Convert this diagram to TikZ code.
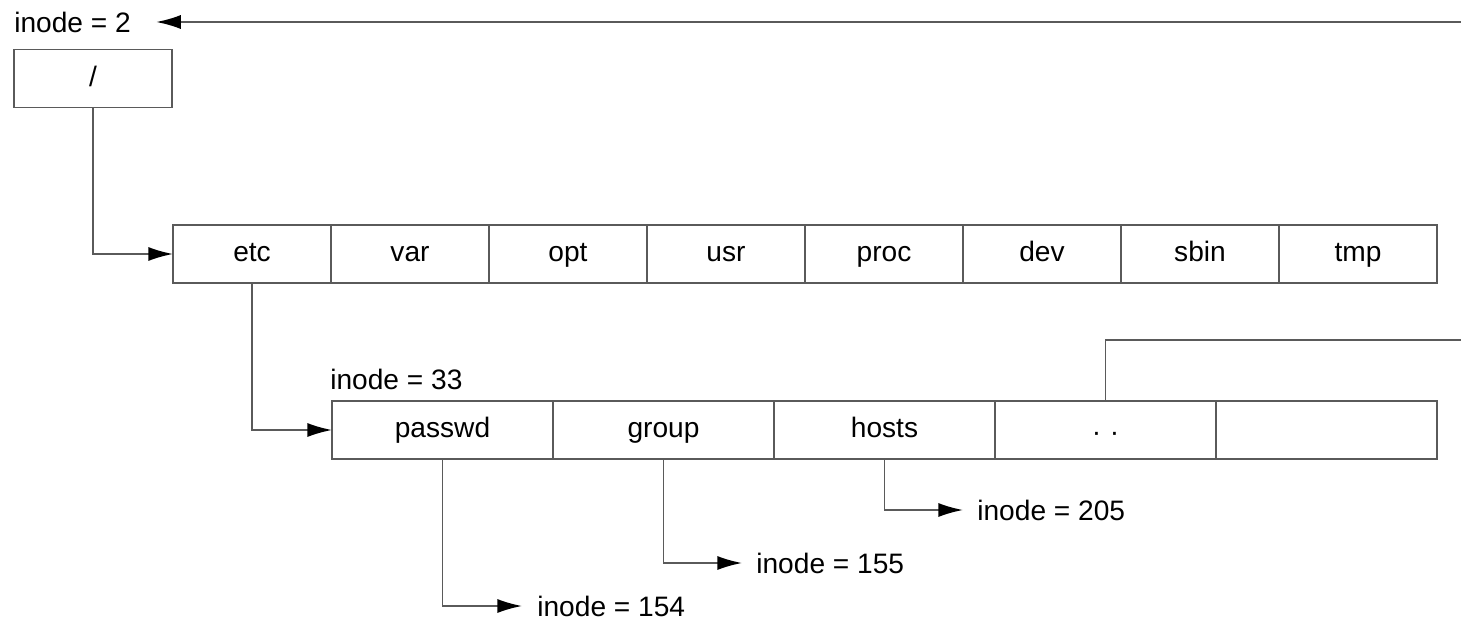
\documentclass[tikz,border=0pt]{standalone}
\usepackage{fontspec}
\setmainfont{Liberation Sans}
\usetikzlibrary{arrows.meta,positioning}
\definecolor{linegray}{RGB}{90,90,90}
\tikzstyle{dirbox} = [draw=linegray, line width=1pt, rectangle, outer sep=0pt,
    minimum height=1.16cm, minimum width=3.16cm, text height=1em, text depth=0.1em]
\tikzstyle{entry} = [dirbox, minimum width=4.42cm]
\tikzstyle{inodelbl} = [inner sep=0pt, anchor=west]
\tikzstyle{link} = [draw=linegray, line width=1pt]

\begin{document}
\begin{tikzpicture}[node distance=0pt, >={Latex[length=14pt,width=8pt,color=black]},
    every node/.append style={font=\fontsize{16}{19}\selectfont}]
    \useasboundingbox (0,0) rectangle (29.22,-12.42);
    % root directory
    \node [inodelbl] (ino2) at (0.28,-0.44) {inode = 2};
    \node [dirbox] (root) at (1.86,-1.57) {/};
    \coordinate (topin) at (29.22,-0.44);
    % entries of /
    \node [dirbox] (etc) at (5.04,-5.08) {etc};
    \node [dirbox, right=of etc] (var) {var};
    \node [dirbox, right=of var] (opt) {opt};
    \node [dirbox, right=of opt] (usr) {usr};
    \node [dirbox, right=of usr] (proc) {proc};
    \node [dirbox, right=of proc] (dev) {dev};
    \node [dirbox, right=of dev] (sbin) {sbin};
    \node [dirbox, right=of sbin] (tmp) {tmp};
    % entries of /etc
    \node [inodelbl] (ino33) at (6.6,-7.58) {inode = 33};
    \node [entry] (passwd) at (8.85,-8.6) {passwd};
    \node [entry, right=of passwd] (group) {group};
    \node [entry, right=of group] (hosts) {hosts};
    \node [entry, right=of hosts] (dots) {\raisebox{-0.12em}{·\hspace{5pt}·}};
    \node [entry, right=of dots] (blank) {};
    \coordinate (upto) at (29.22,-6.8);
    % inodes of the files
    \node [inodelbl] (ino154) at (10.74,-12.12) {inode = 154};
    \node [inodelbl] (ino155) at (15.12,-11.26) {inode = 155};
    \node [inodelbl] (ino205) at (19.54,-10.2) {inode = 205};
	\draw [->,link] (topin) -- ([xshift=0.5cm]ino2.east);
	\draw [->,link] (root.south) |- (etc.west);
	\draw [->,link] (etc.south) |- (passwd.west);
	\draw [link] (dots.north) |- (upto);
	\draw [->,link] (passwd.south) |- ([xshift=-0.3cm]ino154.west);
	\draw [->,link] (group.south) |- ([xshift=-0.28cm]ino155.west);
	\draw [->,link] (hosts.south) |- ([xshift=-0.28cm]ino205.west);
\end{tikzpicture}
\end{document}
